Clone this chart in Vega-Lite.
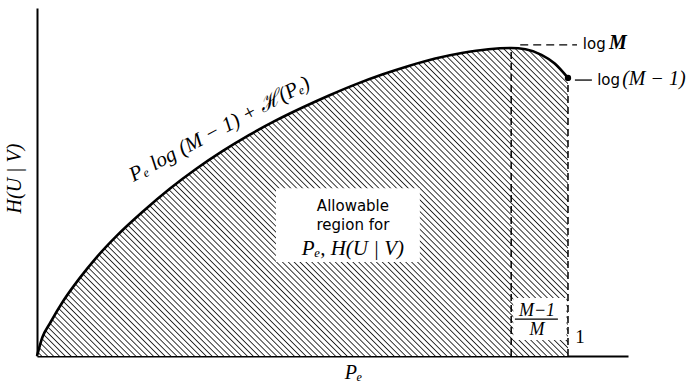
{
"$schema": "https://vega.github.io/schema/vega-lite/v6.json",
"width": 591, "height": 348,
"autosize": "none",
"padding": {"left": 37, "top": 8, "right": 72, "bottom": 25},
"background": "white",
"config": {"view": {"stroke": null}, "axis": {"grid": false, "ticks": false, "labels": false, "domainColor": "black", "domainWidth": 2}},
"data": {"values": [{}]},
"datasets": {"curve": [
{"p": 0, "h": 0}, {"p": 0.01, "h": 0.06}, {"p": 0.025, "h": 0.108}, {"p": 0.05, "h": 0.18}, {"p": 0.08, "h": 0.252}, {"p": 0.113, "h": 0.322}, {"p": 0.15, "h": 0.39}, {"p": 0.2, "h": 0.47}, {"p": 0.25, "h": 0.543}, {"p": 0.3, "h": 0.608}, {"p": 0.35, "h": 0.666}, {"p": 0.4, "h": 0.718}, {"p": 0.45, "h": 0.765}, {"p": 0.5, "h": 0.807}, {"p": 0.55, "h": 0.846}, {"p": 0.6, "h": 0.882}, {"p": 0.65, "h": 0.914}, {"p": 0.7, "h": 0.942}, {"p": 0.75, "h": 0.966}, {"p": 0.8, "h": 0.984}, {"p": 0.85, "h": 0.996}, {"p": 0.893, "h": 1.0}, {"p": 0.92, "h": 0.996}, {"p": 0.95, "h": 0.978}, {"p": 0.975, "h": 0.95}, {"p": 1.0, "h": 0.903}
]},
"layer": [
{"data": {"name": "curve"},
 "mark": {"type": "area", "interpolate": "monotone", "fill": {"gradient": "linear", "x1": 0, "y1": 1, "x2": 1.1823, "y2": 0.3143, "stops": [
{"offset":0,"color":"#fff"},
{"offset":0.004,"color":"#fff"},{"offset":0.0055,"color":"#222"},{"offset":0.007,"color":"#fff"},
{"offset":0.011,"color":"#fff"},{"offset":0.0125,"color":"#222"},{"offset":0.014,"color":"#fff"},
{"offset":0.018,"color":"#fff"},{"offset":0.0195,"color":"#222"},{"offset":0.021,"color":"#fff"},
{"offset":0.025,"color":"#fff"},{"offset":0.0265,"color":"#222"},{"offset":0.028,"color":"#fff"},
{"offset":0.032,"color":"#fff"},{"offset":0.0335,"color":"#222"},{"offset":0.035,"color":"#fff"},
{"offset":0.039,"color":"#fff"},{"offset":0.0405,"color":"#222"},{"offset":0.042,"color":"#fff"},
{"offset":0.046,"color":"#fff"},{"offset":0.0475,"color":"#222"},{"offset":0.049,"color":"#fff"},
{"offset":0.053,"color":"#fff"},{"offset":0.0545,"color":"#222"},{"offset":0.056,"color":"#fff"},
{"offset":0.06,"color":"#fff"},{"offset":0.0615,"color":"#222"},{"offset":0.063,"color":"#fff"},
{"offset":0.067,"color":"#fff"},{"offset":0.0685,"color":"#222"},{"offset":0.07,"color":"#fff"},
{"offset":0.074,"color":"#fff"},{"offset":0.0755,"color":"#222"},{"offset":0.077,"color":"#fff"},
{"offset":0.081,"color":"#fff"},{"offset":0.0825,"color":"#222"},{"offset":0.084,"color":"#fff"},
{"offset":0.088,"color":"#fff"},{"offset":0.0895,"color":"#222"},{"offset":0.091,"color":"#fff"},
{"offset":0.095,"color":"#fff"},{"offset":0.0965,"color":"#222"},{"offset":0.098,"color":"#fff"},
{"offset":0.102,"color":"#fff"},{"offset":0.1035,"color":"#222"},{"offset":0.105,"color":"#fff"},
{"offset":0.109,"color":"#fff"},{"offset":0.1105,"color":"#222"},{"offset":0.112,"color":"#fff"},
{"offset":0.116,"color":"#fff"},{"offset":0.1175,"color":"#222"},{"offset":0.119,"color":"#fff"},
{"offset":0.123,"color":"#fff"},{"offset":0.1245,"color":"#222"},{"offset":0.126,"color":"#fff"},
{"offset":0.13,"color":"#fff"},{"offset":0.1315,"color":"#222"},{"offset":0.133,"color":"#fff"},
{"offset":0.137,"color":"#fff"},{"offset":0.1385,"color":"#222"},{"offset":0.14,"color":"#fff"},
{"offset":0.144,"color":"#fff"},{"offset":0.1455,"color":"#222"},{"offset":0.147,"color":"#fff"},
{"offset":0.151,"color":"#fff"},{"offset":0.1525,"color":"#222"},{"offset":0.154,"color":"#fff"},
{"offset":0.158,"color":"#fff"},{"offset":0.1595,"color":"#222"},{"offset":0.161,"color":"#fff"},
{"offset":0.165,"color":"#fff"},{"offset":0.1665,"color":"#222"},{"offset":0.168,"color":"#fff"},
{"offset":0.172,"color":"#fff"},{"offset":0.1735,"color":"#222"},{"offset":0.175,"color":"#fff"},
{"offset":0.179,"color":"#fff"},{"offset":0.1805,"color":"#222"},{"offset":0.182,"color":"#fff"},
{"offset":0.186,"color":"#fff"},{"offset":0.1875,"color":"#222"},{"offset":0.189,"color":"#fff"},
{"offset":0.193,"color":"#fff"},{"offset":0.1945,"color":"#222"},{"offset":0.196,"color":"#fff"},
{"offset":0.2,"color":"#fff"},{"offset":0.2015,"color":"#222"},{"offset":0.203,"color":"#fff"},
{"offset":0.207,"color":"#fff"},{"offset":0.2085,"color":"#222"},{"offset":0.21,"color":"#fff"},
{"offset":0.214,"color":"#fff"},{"offset":0.2155,"color":"#222"},{"offset":0.217,"color":"#fff"},
{"offset":0.221,"color":"#fff"},{"offset":0.2225,"color":"#222"},{"offset":0.224,"color":"#fff"},
{"offset":0.228,"color":"#fff"},{"offset":0.2295,"color":"#222"},{"offset":0.231,"color":"#fff"},
{"offset":0.235,"color":"#fff"},{"offset":0.2365,"color":"#222"},{"offset":0.238,"color":"#fff"},
{"offset":0.242,"color":"#fff"},{"offset":0.2435,"color":"#222"},{"offset":0.245,"color":"#fff"},
{"offset":0.249,"color":"#fff"},{"offset":0.2505,"color":"#222"},{"offset":0.252,"color":"#fff"},
{"offset":0.256,"color":"#fff"},{"offset":0.2575,"color":"#222"},{"offset":0.259,"color":"#fff"},
{"offset":0.263,"color":"#fff"},{"offset":0.2645,"color":"#222"},{"offset":0.266,"color":"#fff"},
{"offset":0.27,"color":"#fff"},{"offset":0.2715,"color":"#222"},{"offset":0.273,"color":"#fff"},
{"offset":0.277,"color":"#fff"},{"offset":0.2785,"color":"#222"},{"offset":0.28,"color":"#fff"},
{"offset":0.284,"color":"#fff"},{"offset":0.2855,"color":"#222"},{"offset":0.287,"color":"#fff"},
{"offset":0.291,"color":"#fff"},{"offset":0.2925,"color":"#222"},{"offset":0.294,"color":"#fff"},
{"offset":0.298,"color":"#fff"},{"offset":0.2995,"color":"#222"},{"offset":0.301,"color":"#fff"},
{"offset":0.305,"color":"#fff"},{"offset":0.3065,"color":"#222"},{"offset":0.308,"color":"#fff"},
{"offset":0.312,"color":"#fff"},{"offset":0.3135,"color":"#222"},{"offset":0.315,"color":"#fff"},
{"offset":0.319,"color":"#fff"},{"offset":0.3205,"color":"#222"},{"offset":0.322,"color":"#fff"},
{"offset":0.326,"color":"#fff"},{"offset":0.3275,"color":"#222"},{"offset":0.329,"color":"#fff"},
{"offset":0.333,"color":"#fff"},{"offset":0.3345,"color":"#222"},{"offset":0.336,"color":"#fff"},
{"offset":0.34,"color":"#fff"},{"offset":0.3415,"color":"#222"},{"offset":0.343,"color":"#fff"},
{"offset":0.347,"color":"#fff"},{"offset":0.3485,"color":"#222"},{"offset":0.35,"color":"#fff"},
{"offset":0.354,"color":"#fff"},{"offset":0.3555,"color":"#222"},{"offset":0.357,"color":"#fff"},
{"offset":0.361,"color":"#fff"},{"offset":0.3625,"color":"#222"},{"offset":0.364,"color":"#fff"},
{"offset":0.368,"color":"#fff"},{"offset":0.3695,"color":"#222"},{"offset":0.371,"color":"#fff"},
{"offset":0.375,"color":"#fff"},{"offset":0.3765,"color":"#222"},{"offset":0.378,"color":"#fff"},
{"offset":0.382,"color":"#fff"},{"offset":0.3835,"color":"#222"},{"offset":0.385,"color":"#fff"},
{"offset":0.389,"color":"#fff"},{"offset":0.3905,"color":"#222"},{"offset":0.392,"color":"#fff"},
{"offset":0.396,"color":"#fff"},{"offset":0.3975,"color":"#222"},{"offset":0.399,"color":"#fff"},
{"offset":0.403,"color":"#fff"},{"offset":0.4045,"color":"#222"},{"offset":0.406,"color":"#fff"},
{"offset":0.41,"color":"#fff"},{"offset":0.4115,"color":"#222"},{"offset":0.413,"color":"#fff"},
{"offset":0.417,"color":"#fff"},{"offset":0.4185,"color":"#222"},{"offset":0.42,"color":"#fff"},
{"offset":0.424,"color":"#fff"},{"offset":0.4255,"color":"#222"},{"offset":0.427,"color":"#fff"},
{"offset":0.431,"color":"#fff"},{"offset":0.4325,"color":"#222"},{"offset":0.434,"color":"#fff"},
{"offset":0.438,"color":"#fff"},{"offset":0.4395,"color":"#222"},{"offset":0.441,"color":"#fff"},
{"offset":0.445,"color":"#fff"},{"offset":0.4465,"color":"#222"},{"offset":0.448,"color":"#fff"},
{"offset":0.452,"color":"#fff"},{"offset":0.4535,"color":"#222"},{"offset":0.455,"color":"#fff"},
{"offset":0.459,"color":"#fff"},{"offset":0.4605,"color":"#222"},{"offset":0.462,"color":"#fff"},
{"offset":0.466,"color":"#fff"},{"offset":0.4675,"color":"#222"},{"offset":0.469,"color":"#fff"},
{"offset":0.473,"color":"#fff"},{"offset":0.4745,"color":"#222"},{"offset":0.476,"color":"#fff"},
{"offset":0.48,"color":"#fff"},{"offset":0.4815,"color":"#222"},{"offset":0.483,"color":"#fff"},
{"offset":0.487,"color":"#fff"},{"offset":0.4885,"color":"#222"},{"offset":0.49,"color":"#fff"},
{"offset":0.494,"color":"#fff"},{"offset":0.4955,"color":"#222"},{"offset":0.497,"color":"#fff"},
{"offset":0.501,"color":"#fff"},{"offset":0.5025,"color":"#222"},{"offset":0.504,"color":"#fff"},
{"offset":0.508,"color":"#fff"},{"offset":0.5095,"color":"#222"},{"offset":0.511,"color":"#fff"},
{"offset":0.515,"color":"#fff"},{"offset":0.5165,"color":"#222"},{"offset":0.518,"color":"#fff"},
{"offset":0.522,"color":"#fff"},{"offset":0.5235,"color":"#222"},{"offset":0.525,"color":"#fff"},
{"offset":0.529,"color":"#fff"},{"offset":0.5305,"color":"#222"},{"offset":0.532,"color":"#fff"},
{"offset":0.536,"color":"#fff"},{"offset":0.5375,"color":"#222"},{"offset":0.539,"color":"#fff"},
{"offset":0.543,"color":"#fff"},{"offset":0.5445,"color":"#222"},{"offset":0.546,"color":"#fff"},
{"offset":0.55,"color":"#fff"},{"offset":0.5515,"color":"#222"},{"offset":0.553,"color":"#fff"},
{"offset":0.557,"color":"#fff"},{"offset":0.5585,"color":"#222"},{"offset":0.56,"color":"#fff"},
{"offset":0.564,"color":"#fff"},{"offset":0.5655,"color":"#222"},{"offset":0.567,"color":"#fff"},
{"offset":0.571,"color":"#fff"},{"offset":0.5725,"color":"#222"},{"offset":0.574,"color":"#fff"},
{"offset":0.578,"color":"#fff"},{"offset":0.5795,"color":"#222"},{"offset":0.581,"color":"#fff"},
{"offset":0.585,"color":"#fff"},{"offset":0.5865,"color":"#222"},{"offset":0.588,"color":"#fff"},
{"offset":0.592,"color":"#fff"},{"offset":0.5935,"color":"#222"},{"offset":0.595,"color":"#fff"},
{"offset":0.599,"color":"#fff"},{"offset":0.6005,"color":"#222"},{"offset":0.602,"color":"#fff"},
{"offset":0.606,"color":"#fff"},{"offset":0.6075,"color":"#222"},{"offset":0.609,"color":"#fff"},
{"offset":0.613,"color":"#fff"},{"offset":0.6145,"color":"#222"},{"offset":0.616,"color":"#fff"},
{"offset":0.62,"color":"#fff"},{"offset":0.6215,"color":"#222"},{"offset":0.623,"color":"#fff"},
{"offset":0.627,"color":"#fff"},{"offset":0.6285,"color":"#222"},{"offset":0.63,"color":"#fff"},
{"offset":0.634,"color":"#fff"},{"offset":0.6355,"color":"#222"},{"offset":0.637,"color":"#fff"},
{"offset":0.641,"color":"#fff"},{"offset":0.6425,"color":"#222"},{"offset":0.644,"color":"#fff"},
{"offset":0.648,"color":"#fff"},{"offset":0.6495,"color":"#222"},{"offset":0.651,"color":"#fff"},
{"offset":0.655,"color":"#fff"},{"offset":0.6565,"color":"#222"},{"offset":0.658,"color":"#fff"},
{"offset":0.662,"color":"#fff"},{"offset":0.6635,"color":"#222"},{"offset":0.665,"color":"#fff"},
{"offset":0.669,"color":"#fff"},{"offset":0.6705,"color":"#222"},{"offset":0.672,"color":"#fff"},
{"offset":0.676,"color":"#fff"},{"offset":0.6775,"color":"#222"},{"offset":0.679,"color":"#fff"},
{"offset":0.683,"color":"#fff"},{"offset":0.6845,"color":"#222"},{"offset":0.686,"color":"#fff"},
{"offset":0.69,"color":"#fff"},{"offset":0.6915,"color":"#222"},{"offset":0.693,"color":"#fff"},
{"offset":0.697,"color":"#fff"},{"offset":0.6985,"color":"#222"},{"offset":0.7,"color":"#fff"},
{"offset":0.704,"color":"#fff"},{"offset":0.7055,"color":"#222"},{"offset":0.707,"color":"#fff"},
{"offset":0.711,"color":"#fff"},{"offset":0.7125,"color":"#222"},{"offset":0.714,"color":"#fff"},
{"offset":0.718,"color":"#fff"},{"offset":0.7195,"color":"#222"},{"offset":0.721,"color":"#fff"},
{"offset":0.725,"color":"#fff"},{"offset":0.7265,"color":"#222"},{"offset":0.728,"color":"#fff"},
{"offset":0.732,"color":"#fff"},{"offset":0.7335,"color":"#222"},{"offset":0.735,"color":"#fff"},
{"offset":0.739,"color":"#fff"},{"offset":0.7405,"color":"#222"},{"offset":0.742,"color":"#fff"},
{"offset":0.746,"color":"#fff"},{"offset":0.7475,"color":"#222"},{"offset":0.749,"color":"#fff"},
{"offset":0.753,"color":"#fff"},{"offset":0.7545,"color":"#222"},{"offset":0.756,"color":"#fff"},
{"offset":0.76,"color":"#fff"},{"offset":0.7615,"color":"#222"},{"offset":0.763,"color":"#fff"},
{"offset":0.767,"color":"#fff"},{"offset":0.7685,"color":"#222"},{"offset":0.77,"color":"#fff"},
{"offset":0.774,"color":"#fff"},{"offset":0.7755,"color":"#222"},{"offset":0.777,"color":"#fff"},
{"offset":0.781,"color":"#fff"},{"offset":0.7825,"color":"#222"},{"offset":0.784,"color":"#fff"},
{"offset":0.788,"color":"#fff"},{"offset":0.7895,"color":"#222"},{"offset":0.791,"color":"#fff"},
{"offset":0.795,"color":"#fff"},{"offset":0.7965,"color":"#222"},{"offset":0.798,"color":"#fff"},
{"offset":0.802,"color":"#fff"},{"offset":0.8035,"color":"#222"},{"offset":0.805,"color":"#fff"},
{"offset":0.809,"color":"#fff"},{"offset":0.8105,"color":"#222"},{"offset":0.812,"color":"#fff"},
{"offset":0.816,"color":"#fff"},{"offset":0.8175,"color":"#222"},{"offset":0.819,"color":"#fff"},
{"offset":0.823,"color":"#fff"},{"offset":0.8245,"color":"#222"},{"offset":0.826,"color":"#fff"},
{"offset":0.83,"color":"#fff"},{"offset":0.8315,"color":"#222"},{"offset":0.833,"color":"#fff"},
{"offset":0.837,"color":"#fff"},{"offset":0.8385,"color":"#222"},{"offset":0.84,"color":"#fff"},
{"offset":0.844,"color":"#fff"},{"offset":0.8455,"color":"#222"},{"offset":0.847,"color":"#fff"},
{"offset":0.851,"color":"#fff"},{"offset":0.8525,"color":"#222"},{"offset":0.854,"color":"#fff"},
{"offset":0.858,"color":"#fff"},{"offset":0.8595,"color":"#222"},{"offset":0.861,"color":"#fff"},
{"offset":0.865,"color":"#fff"},{"offset":0.8665,"color":"#222"},{"offset":0.868,"color":"#fff"},
{"offset":0.872,"color":"#fff"},{"offset":0.8735,"color":"#222"},{"offset":0.875,"color":"#fff"},
{"offset":0.879,"color":"#fff"},{"offset":0.8805,"color":"#222"},{"offset":0.882,"color":"#fff"},
{"offset":0.886,"color":"#fff"},{"offset":0.8875,"color":"#222"},{"offset":0.889,"color":"#fff"},
{"offset":0.893,"color":"#fff"},{"offset":0.8945,"color":"#222"},{"offset":0.896,"color":"#fff"},
{"offset":0.9,"color":"#fff"},{"offset":0.9015,"color":"#222"},{"offset":0.903,"color":"#fff"},
{"offset":0.907,"color":"#fff"},{"offset":0.9085,"color":"#222"},{"offset":0.91,"color":"#fff"},
{"offset":0.914,"color":"#fff"},{"offset":0.9155,"color":"#222"},{"offset":0.917,"color":"#fff"},
{"offset":0.921,"color":"#fff"},{"offset":0.9225,"color":"#222"},{"offset":0.924,"color":"#fff"},
{"offset":0.928,"color":"#fff"},{"offset":0.9295,"color":"#222"},{"offset":0.931,"color":"#fff"},
{"offset":0.935,"color":"#fff"},{"offset":0.9365,"color":"#222"},{"offset":0.938,"color":"#fff"},
{"offset":0.942,"color":"#fff"},{"offset":0.9435,"color":"#222"},{"offset":0.945,"color":"#fff"},
{"offset":0.949,"color":"#fff"},{"offset":0.9505,"color":"#222"},{"offset":0.952,"color":"#fff"},
{"offset":0.956,"color":"#fff"},{"offset":0.9575,"color":"#222"},{"offset":0.959,"color":"#fff"},
{"offset":0.963,"color":"#fff"},{"offset":0.9645,"color":"#222"},{"offset":0.966,"color":"#fff"},
{"offset":0.97,"color":"#fff"},{"offset":0.9715,"color":"#222"},{"offset":0.973,"color":"#fff"},
{"offset":0.977,"color":"#fff"},{"offset":0.9785,"color":"#222"},{"offset":0.98,"color":"#fff"},
{"offset":0.984,"color":"#fff"},{"offset":0.9855,"color":"#222"},{"offset":0.987,"color":"#fff"},
{"offset":0.991,"color":"#fff"},{"offset":0.9925,"color":"#222"},{"offset":0.994,"color":"#fff"},
{"offset":0.998,"color":"#fff"},{"offset":0.9995,"color":"#222"},{"offset":1,"color":"#fff"}
 ]}},
 "encoding": {
  "x": {"field": "p", "type": "quantitative", "scale": {"domain": [0, 1.113], "nice": false, "zero": false},
        "axis": {"title": "Pₑ", "titleFont": "Liberation Serif", "titleFontStyle": "italic", "titleFontWeight": "normal", "titleFontSize": 20, "titleColor": "black", "titleX": 316, "titleY": 16, "titleBaseline": "middle", "titleAlign": "center"}},
  "y": {"field": "h", "type": "quantitative", "scale": {"domain": [0, 1.13], "nice": false},
        "axis": {"title": "H(U | V)", "titleFont": "Liberation Serif", "titleFontStyle": "italic", "titleFontWeight": "normal", "titleFontSize": 20, "titleColor": "black", "titleX": -23, "titleY": 170, "titleAngle": -90, "titleBaseline": "middle", "titleAlign": "center"}}
 }},
{"mark": {"type": "rect", "fill": "white"},
 "encoding": {"x": {"datum": 0.450}, "x2": {"datum": 0.721}, "y": {"datum": 0.305}, "y2": {"datum": 0.545}}},
{"mark": {"type": "rect", "fill": "white"},
 "encoding": {"x": {"datum": 0.897}, "x2": {"datum": 0.997}, "y": {"datum": 0.052}, "y2": {"datum": 0.188}}},
{"mark": {"type": "rule", "color": "black", "strokeWidth": 1.5, "strokeDash": [7, 4]},
 "encoding": {"x": {"datum": 0.893}, "y": {"datum": 0}, "y2": {"datum": 1.0}}},
{"mark": {"type": "rule", "color": "black", "strokeWidth": 1.5, "strokeDash": [7, 4]},
 "encoding": {"x": {"datum": 1.0}, "y": {"datum": 0}, "y2": {"datum": 0.903}}},
{"mark": {"type": "rule", "color": "black", "strokeWidth": 1.3, "strokeDash": [8, 5]},
 "encoding": {"x": {"datum": 0.91}, "x2": {"datum": 1.017}, "y": {"datum": 1.01}}},
{"mark": {"type": "rule", "color": "black", "strokeWidth": 1.3},
 "encoding": {"x": {"datum": 1.013}, "x2": {"datum": 1.045}, "y": {"datum": 0.896}}},
{"mark": {"type": "rule", "color": "black", "strokeWidth": 1.2},
 "encoding": {"x": {"datum": 0.900}, "x2": {"datum": 0.981}, "y": {"datum": 0.120}}},
{"data": {"name": "curve"},
 "mark": {"type": "line", "interpolate": "monotone", "color": "black", "strokeWidth": 2.6},
 "encoding": {"x": {"field": "p", "type": "quantitative"}, "y": {"field": "h", "type": "quantitative"}}},
{"mark": {"type": "point", "filled": true, "color": "black", "size": 40, "opacity": 1},
 "encoding": {"x": {"datum": 1.0}, "y": {"datum": 0.903}}},
{"mark": {"type": "text", "font": "Liberation Serif", "fontStyle": "italic", "fontSize": 21, "angle": -28, "align": "center", "baseline": "middle", "color": "black"},
 "encoding": {"x": {"datum": 0.344}, "y": {"datum": 0.736}, "text": {"value": "Pₑ log (M − 1) + ℋ(Pₑ)"}}},
{"mark": {"type": "text", "font": "DejaVu Sans", "fontSize": 15, "align": "center", "baseline": "alphabetic", "color": "black"},
 "encoding": {"x": {"datum": 0.595}, "y": {"datum": 0.471}, "text": {"value": "Allowable"}}},
{"mark": {"type": "text", "font": "DejaVu Sans", "fontSize": 15, "align": "center", "baseline": "alphabetic", "color": "black"},
 "encoding": {"x": {"datum": 0.595}, "y": {"datum": 0.409}, "text": {"value": "region for"}}},
{"mark": {"type": "text", "font": "Liberation Serif", "fontStyle": "italic", "fontSize": 21, "align": "center", "baseline": "alphabetic", "color": "black"},
 "encoding": {"x": {"datum": 0.595}, "y": {"datum": 0.328}, "text": {"value": "Pₑ, H(U | V)"}}},
{"mark": {"type": "text", "font": "Liberation Serif", "fontStyle": "italic", "fontSize": 18, "align": "center", "baseline": "alphabetic", "color": "black"},
 "encoding": {"x": {"datum": 0.9416}, "y": {"datum": 0.130}, "text": {"value": "M−1"}}},
{"mark": {"type": "text", "font": "Liberation Serif", "fontStyle": "italic", "fontSize": 18, "align": "center", "baseline": "alphabetic", "color": "black"},
 "encoding": {"x": {"datum": 0.9416}, "y": {"datum": 0.068}, "text": {"value": "M"}}},
{"mark": {"type": "text", "font": "Liberation Serif", "fontSize": 19, "align": "center", "baseline": "alphabetic", "color": "black"},
 "encoding": {"x": {"datum": 1.0226}, "y": {"datum": 0.042}, "text": {"value": "1"}}},
{"mark": {"type": "text", "font": "DejaVu Sans", "fontSize": 15, "align": "left", "baseline": "alphabetic", "color": "black"},
 "encoding": {"x": {"datum": 1.028}, "y": {"datum": 0.997}, "text": {"value": "log"}}},
{"mark": {"type": "text", "font": "Liberation Serif", "fontStyle": "italic", "fontWeight": "bold", "fontSize": 20, "align": "left", "baseline": "alphabetic", "color": "black"},
 "encoding": {"x": {"datum": 1.077}, "y": {"datum": 0.997}, "text": {"value": "M"}}},
{"mark": {"type": "text", "font": "DejaVu Sans", "fontSize": 15, "align": "left", "baseline": "alphabetic", "color": "black"},
 "encoding": {"x": {"datum": 1.055}, "y": {"datum": 0.880}, "text": {"value": "log"}}},
{"mark": {"type": "text", "font": "Liberation Serif", "fontStyle": "italic", "fontSize": 20, "align": "left", "baseline": "alphabetic", "color": "black"},
 "encoding": {"x": {"datum": 1.102}, "y": {"datum": 0.880}, "text": {"value": "(M − 1)"}}}
]
}
